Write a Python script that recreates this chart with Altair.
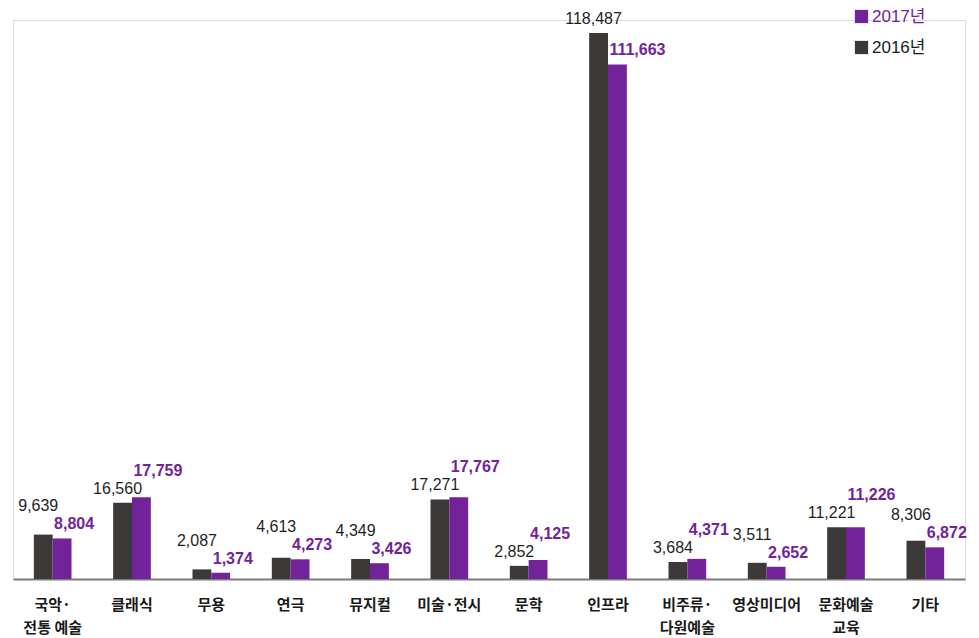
import altair as alt
import pandas as pd

categories = ["국악·|전통 예술", "클래식", "무용", "연극", "뮤지컬", "미술·전시", "문학",
              "인프라", "비주류·|다원예술", "영상미디어", "문화예술|교육", "기타"]
values_2016 = [9639, 16560, 2087, 4613, 4349, 17271, 2852, 118487, 3684, 3511, 11221, 8306]
values_2017 = [8804, 17759, 1374, 4273, 3426, 17767, 4125, 111663, 4371, 2652, 11226, 6872]
years = ["2016년", "2017년"]

rows = []
for c, a, b in zip(categories, values_2016, values_2017):
    rows.append({"cat": c, "year": years[0], "value": a})
    rows.append({"cat": c, "year": years[1], "value": b})
df = pd.DataFrame(rows)

PURPLE = "#722399"
DARK = "#3D3939"
NUMFONT = "Liberation Sans, Noto Sans CJK KR"

PLOT_W = 952
PLOT_H = 559
YMAX = 121308
UNIT = YMAX / PLOT_H  # data units per pixel
LABEL_GAP_PX = 18

xscale = alt.Scale(domain=categories, paddingInner=0.525, paddingOuter=0.2625)
xoff = alt.Scale(domain=years, paddingInner=0, paddingOuter=0)
yscale = alt.Scale(domain=[0, YMAX], nice=False, zero=True)

x_enc = alt.X("cat:N", scale=xscale, sort=categories, title=None,
              axis=alt.Axis(labelExpr="split(datum.label, '|')", labelAngle=0,
                            labelFont="Noto Sans CJK KR", labelFontWeight="bold",
                            labelFontSize=15, labelColor="#1a1a1a", labelLineHeight=23,
                            labelPadding=25, ticks=False, domainColor="#7a7a7a",
                            domainWidth=2, grid=False, labelBaseline="middle"))
xo_enc = alt.XOffset("year:N", scale=xoff, sort=years)

base = alt.Chart(df).transform_joinaggregate(
    top="max(value)", low="min(value)", groupby=["cat"]
).transform_calculate(
    label_y=f"datum.value == datum.top ? max(datum.top, datum.low + {LABEL_GAP_PX * UNIT}) : datum.value"
)

bars = base.mark_bar().encode(
    x=x_enc, xOffset=xo_enc,
    y=alt.Y("value:Q", scale=yscale, axis=None),
    color=alt.Color("year:N",
                    scale=alt.Scale(domain=["2017년", "2016년"], range=[PURPLE, DARK]),
                    legend=alt.Legend(title=None, orient="none", legendX=840, legendY=-12,
                                      symbolType="square", symbolSize=175,
                                      symbolStrokeWidth=0, labelFontSize=17,
                                      labelFont=NUMFONT, labelOffset=2, rowPadding=13,
                                      padding=0,
                                      labelColor=alt.ExprRef(
                                          f"datum.label == '2017년' ? '{PURPLE}' : '#1a1a1a'"))),
)

t2016 = base.transform_filter(alt.datum.year == "2016년").mark_text(
    font=NUMFONT, fontSize=16, color="#1f1f1f", baseline="bottom", dy=-6, dx=-5
).encode(
    x=x_enc, xOffset=xo_enc,
    y=alt.Y("label_y:Q", scale=yscale, axis=None),
    text=alt.Text("value:Q", format=","),
)

t2017 = base.transform_filter(alt.datum.year == "2017년").mark_text(
    font=NUMFONT, fontSize=16, fontWeight="bold", color=PURPLE, baseline="bottom",
    align="left", dy=-6, dx=-8
).encode(
    x=x_enc, xOffset=xo_enc,
    y=alt.Y("label_y:Q", scale=yscale, axis=None),
    text=alt.Text("value:Q", format=","),
)

chart = alt.layer(bars, t2016, t2017).properties(
    width=PLOT_W, height=PLOT_H,
    autosize=alt.AutoSizeParams(type="none"),
    padding={"left": 5, "top": 12, "right": 6, "bottom": 56},
).configure_view(stroke=None).configure(background="white")

chart.save("out.html", embed_options={"renderer": "svg", "actions": False})
